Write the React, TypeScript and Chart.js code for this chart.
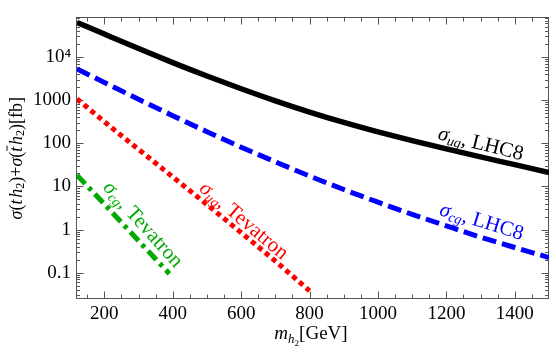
import React, { useEffect, useRef } from "react";
import { Chart, registerables } from "chart.js";

Chart.register(...registerables);

// ---- data ----
const massLHC = [120, 200, 300, 400, 500, 600, 700, 800, 900, 1000, 1100, 1200, 1300, 1400, 1500];
const sigmaUgLHC8 = [63100, 33900, 15700, 7410, 3630, 1840, 966, 531, 305, 184, 115, 74, 48.4, 32, 21.1];
const sigmaCgLHC8 = [5250, 2570, 1047, 437, 186, 81.3, 37.2, 17.4, 8.5, 4.32, 2.26, 1.22, 0.668, 0.385, 0.226];
const massTevUg = [120, 200, 300, 400, 500, 600, 700, 800];
const sigmaUgTev = [1070, 316, 72, 16.6, 3.8, 0.85, 0.186, 0.038];
const massTevCg = [120, 200, 300, 390];
const sigmaCgTev = [18.3, 3.9, 0.55, 0.095];

const xTicks = [200, 400, 600, 800, 1000, 1200, 1400];
const yTicks = [0.1, 1, 10, 100, 1000, 10000];
const yTickLabels = ["0.1", "1", "10", "100", "1000", "10\u2074"];

// curve labels: anchor in data coords
const labelSub = ["ug", "cg", "ug", "cg"];
const labelRest = [", LHC8", ", LHC8", ", Tevatron", ", Tevatron"];
const labelMass = [1300, 1303, 607, 312];
const labelValue = [95, 1.5, 1.6, 1.3];
const labelAngleDeg = [14, 17, 40, 48];
const labelColor = ["#000000", "#0000ff", "#ff0000", "#00aa00"];

const SERIF = "'Liberation Serif', 'Times New Roman', serif";

type Seg = { t: string; f: string; dy?: number; bar?: boolean };

function drawRich(ctx: CanvasRenderingContext2D, segs: Seg[], cx: number, cy: number, angle: number, color: string, baseline: CanvasTextBaseline) {
  ctx.save();
  ctx.translate(cx, cy);
  ctx.rotate(angle);
  ctx.fillStyle = color;
  ctx.strokeStyle = color;
  ctx.textAlign = "left";
  ctx.textBaseline = baseline;
  let w = 0;
  for (const s of segs) {
    ctx.font = s.f;
    w += ctx.measureText(s.t).width;
  }
  let x = -w / 2;
  for (const s of segs) {
    ctx.font = s.f;
    const sw = ctx.measureText(s.t).width;
    ctx.fillText(s.t, x, s.dy || 0);
    if (s.bar) {
      ctx.lineWidth = 1;
      ctx.beginPath();
      ctx.moveTo(x + 1, -10);
      ctx.lineTo(x + sw + 1, -10);
      ctx.stroke();
    }
    x += sw;
  }
  ctx.restore();
}

const decorPlugin = {
  id: "decor",
  beforeDatasetsDraw(chart: any) {
    const { ctx, chartArea: a, scales } = chart;
    const x = scales.x;
    const y = scales.y;
    ctx.save();
    ctx.strokeStyle = "#555";
    ctx.lineWidth = 1;
    const L = Math.round(a.left) - 0.5;
    const R = Math.round(a.right) - 0.5;
    const T = Math.round(a.top) + 0.5;
    const B = Math.round(a.bottom) - 0.5;
    ctx.strokeRect(L, T, R - L, B - T);
    ctx.beginPath();
    // x ticks
    for (let m = 150; m < 1500; m += 50) {
      const px = Math.round(x.getPixelForValue(m)) + 0.5;
      const len = xTicks.includes(m) ? 7 : 4;
      ctx.moveTo(px, B);
      ctx.lineTo(px, B - len);
      ctx.moveTo(px, T);
      ctx.lineTo(px, T + len);
    }
    // y ticks
    for (let e = -2; e <= 4; e++) {
      for (let k = 1; k <= 9; k++) {
        const v = k * Math.pow(10, e);
        if (v < y.min || v > y.max) continue;
        const py = Math.round(y.getPixelForValue(v)) + 0.5;
        const len = k === 1 ? 7 : 3.5;
        ctx.moveTo(L, py);
        ctx.lineTo(L + len, py);
        ctx.moveTo(R, py);
        ctx.lineTo(R - len, py);
      }
    }
    ctx.stroke();
    ctx.restore();
  },
  afterDraw(chart: any) {
    const { ctx, chartArea: a, scales } = chart;
    const x = scales.x;
    const y = scales.y;
    const it = (s: number) => `italic ${s}px ${SERIF}`;
    const up = (s: number) => `${s}px ${SERIF}`;
    // y title
    drawRich(
      ctx,
      [
        { t: "\u03c3", f: it(18) },
        { t: "(", f: up(18) },
        { t: "t", f: it(18) },
        { t: " ", f: up(7) },
        { t: "h", f: it(18) },
        { t: "2", f: up(12), dy: 4 },
        { t: ")", f: up(18) },
        { t: "+", f: up(18) },
        { t: "\u03c3", f: it(18) },
        { t: "(", f: up(18) },
        { t: "t", f: it(18), bar: true },
        { t: " ", f: up(7) },
        { t: "h", f: it(18) },
        { t: "2", f: up(12), dy: 4 },
        { t: ")", f: up(18) },
        { t: "[fb]", f: up(18) },
      ],
      17,
      (a.top + a.bottom) / 2,
      -Math.PI / 2,
      "#000",
      "middle"
    );
    // x title
    drawRich(
      ctx,
      [
        { t: "m", f: it(19) },
        { t: "h", f: it(13), dy: 4 },
        { t: "2", f: up(9), dy: 7 },
        { t: "[GeV]", f: up(19) },
      ],
      (a.left + a.right) / 2 - 2,
      a.bottom + 40,
      0,
      "#000",
      "alphabetic"
    );
    // curve labels
    for (let i = 0; i < labelMass.length; i++) {
      const px = x.getPixelForValue(labelMass[i]);
      const py = y.getPixelForValue(labelValue[i]);
      drawRich(
        ctx,
        [
          { t: "\u03c3", f: it(21) },
          { t: labelSub[i], f: it(14), dy: 5 },
          { t: labelRest[i], f: up(21) },
        ],
        px,
        py,
        (labelAngleDeg[i] * Math.PI) / 180,
        labelColor[i],
        "middle"
      );
    }
  },
};

export default function App() {
  const ref = useRef<HTMLCanvasElement | null>(null);
  useEffect(() => {
    const canvas = ref.current;
    if (!canvas) return;
    const toPts = (xs: number[], ys: number[]) => xs.map((m, i) => ({ x: m, y: ys[i] }));
    const common = {
      pointRadius: 0,
      borderWidth: 5,
      borderCapStyle: "butt" as const,
      cubicInterpolationMode: "monotone" as const,
      fill: false,
    };
    const chart = new Chart(canvas, {
      type: "line",
      data: {
        datasets: [
          { ...common, data: toPts(massLHC, sigmaUgLHC8), borderColor: "#000000", borderWidth: 5.5 },
          { ...common, data: toPts(massLHC, sigmaCgLHC8), borderColor: "#0000ff", borderDash: [14, 6] },
          { ...common, data: toPts(massTevUg, sigmaUgTev), borderColor: "#ff0000", borderDash: [5, 4] },
          { ...common, data: toPts(massTevCg, sigmaCgTev), borderColor: "#00aa00", borderDash: [12, 5, 4, 5] },
        ],
      },
      options: {
        animation: false,
        responsive: false,
        layout: { padding: { top: 7, right: 7, left: 0, bottom: 0 } },
        plugins: { legend: { display: false }, tooltip: { enabled: false } },
        scales: {
          x: {
            type: "linear",
            min: 120,
            max: 1500,
            grid: { display: false, drawTicks: false },
            border: { display: false },
            afterBuildTicks: (s: any) => {
              s.ticks = xTicks.map((v) => ({ value: v }));
            },
            afterFit: (s: any) => {
              s.height = 60;
            },
            ticks: {
              font: { family: SERIF, size: 19 },
              color: "#000",
              padding: 4,
              maxRotation: 0,
              autoSkip: false,
              callback: (v: any) => String(v),
            },
          },
          y: {
            type: "logarithmic",
            min: 0.0247,
            max: 82600,
            grid: { display: false, drawTicks: false },
            border: { display: false },
            afterBuildTicks: (s: any) => {
              s.ticks = yTicks.map((v) => ({ value: v }));
            },
            afterFit: (s: any) => {
              s.width = 77;
            },
            ticks: {
              font: { family: SERIF, size: 19 },
              color: "#000",
              padding: 6,
              autoSkip: false,
              callback: (v: any) => {
                const i = yTicks.indexOf(Number(v));
                return i >= 0 ? yTickLabels[i] : "";
              },
            },
          },
        },
      },
      plugins: [decorPlugin],
    } as any);
    return () => chart.destroy();
  }, []);
  return (
    <div style={{ position: "fixed", left: 0, top: 0, width: 556, height: 359, background: "#fff" }}>
      <canvas ref={ref} width={556} height={359} style={{ display: "block", width: 556, height: 359 }} />
    </div>
  );
}
